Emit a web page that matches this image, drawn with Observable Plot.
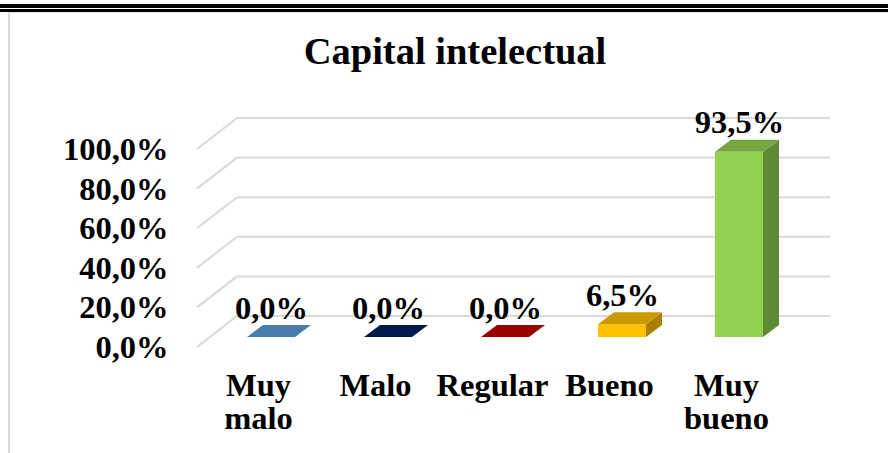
<!DOCTYPE html>
<html>
<head>
<meta charset="utf-8">
<script src="https://cdn.jsdelivr.net/npm/d3@7"></script>
<script src="https://cdn.jsdelivr.net/npm/@observablehq/plot@0.6"></script>
<style>
  html, body { margin: 0; padding: 0; background: #fff; }
  #page { position: relative; width: 888px; height: 453px; overflow: hidden; background: #fff; }
  .rule { position: absolute; left: 0; width: 888px; background: #000; }
  #frame { position: absolute; left: 8px; top: 12px; width: 900px; height: 460px;
           border-left: 2px solid #d9d9d9; border-top: 1px solid #e3e3e3; box-sizing: border-box; }
  #title { position: absolute; top: 32px; left: 22px; width: 866px; text-align: center;
           font-family: "Liberation Serif", "Times New Roman", serif; font-weight: bold;
           font-size: 38.5px; line-height: 38px; color: #000; }
  #chart { position: absolute; top: 88px; left: 0; }
</style>
</head>
<body>
<div id="page">
  <div class="rule" style="top:4px;height:4px"></div>
  <div class="rule" style="top:9px;height:3px"></div>
  <div id="frame"></div>
  <div id="title"></div>
  <div id="chart"></div>
</div>
<script>
// ---- data ----
const title = "Capital intelectual";
const categories = ["Muy malo", "Malo", "Regular", "Bueno", "Muy bueno"];
const values = [0.0, 0.0, 0.0, 6.5, 93.5];
const colors = ["#5b9bd5", "#002060", "#c00000", "#ffc000", "#92d050"];
const yTicks = [0, 20, 40, 60, 80, 100];

const data = categories.map((c, i) => ({cat: c, value: values[i]}));
const fmt = v => v.toFixed(1).replace(".", ",") + "%";

document.getElementById("title").textContent = title;

// 3D depth (pixels, styling)
const DX = 16, DY = -12;
function shade(c, k) { const r = d3.rgb(c); return d3.rgb(r.r * k, r.g * k, r.b * k).formatHex(); }
const colorOf = Object.fromEntries(categories.map((c, i) => [c, colors[i]]));

function bandwidth(x) { return typeof x.bandwidth === "function" ? x.bandwidth() : x.bandwidth; }

// back wall gridlines + left wall diagonals
function grid(index, scales, vals, dims) {
  const y = scales.y;
  const g = d3.create("svg:g").attr("stroke", "#d9d9d9").attr("stroke-width", 2).attr("fill", "none");
  const left = dims.marginLeft, right = dims.width - dims.marginRight;
  for (const t of yTicks) {
    const yb = y(t) - 21, yf = y(t) + 10;
    g.append("line").attr("x1", left + 61).attr("x2", right - 4).attr("y1", yb).attr("y2", yb);
    g.append("line").attr("x1", left + 21).attr("y1", yf).attr("x2", left + 61).attr("y2", yb);
  }
  return g.node();
}

// side and top faces of the 3D bars
function faces(index, scales) {
  const x = scales.x, y = scales.y, bw = bandwidth(x);
  const g = d3.create("svg:g");
  for (const d of data) {
    const x0 = x(d.cat), x1 = x0 + bw, y0 = y(0), yt = y(d.value);
    const c = colorOf[d.cat];
    if (yt < y0) {
      g.append("polygon")
        .attr("points", [[x1, yt], [x1 + DX, yt + DY], [x1 + DX, y0 + DY], [x1, y0]].join(" "))
        .attr("fill", shade(c, 0.66));
    }
    g.append("polygon")
      .attr("points", [[x0, yt], [x0 + DX, yt + DY], [x1 + DX, yt + DY], [x1, yt]].join(" "))
      .attr("fill", shade(c, 0.8));
  }
  return g.node();
}

const chart = Plot.plot({
  width: 888,
  height: 365,
  marginLeft: 176,
  marginRight: 54,
  marginTop: 51,
  marginBottom: 116,
  style: {
    background: "transparent",
    fontFamily: "'Liberation Serif', 'Times New Roman', serif",
    fontSize: "32.5px",
    fontWeight: "bold",
    color: "#000"
  },
  x: {domain: categories, padding: 0.592, axis: null},
  y: {domain: [0, 100], axis: null},
  color: {domain: categories, range: colors},
  marks: [
    grid,
    faces,
    Plot.barY(data, {x: "cat", y: "value", fill: "cat"}),
    Plot.axisY(yTicks, {tickSize: 0, tickPadding: 8, dy: 10, tickFormat: fmt, label: null}),
    Plot.axisX({tickSize: 0, tickPadding: 35, dx: -13, lineHeight: 1.02,
                tickFormat: d => d.replace(" ", "\n"), label: null}),
    Plot.text(data, {x: "cat", y: "value", text: d => fmt(d.value), lineAnchor: "bottom", dy: -19, fill: "#000"})
  ]
});
document.getElementById("chart").appendChild(chart);
</script>
</body>
</html>
